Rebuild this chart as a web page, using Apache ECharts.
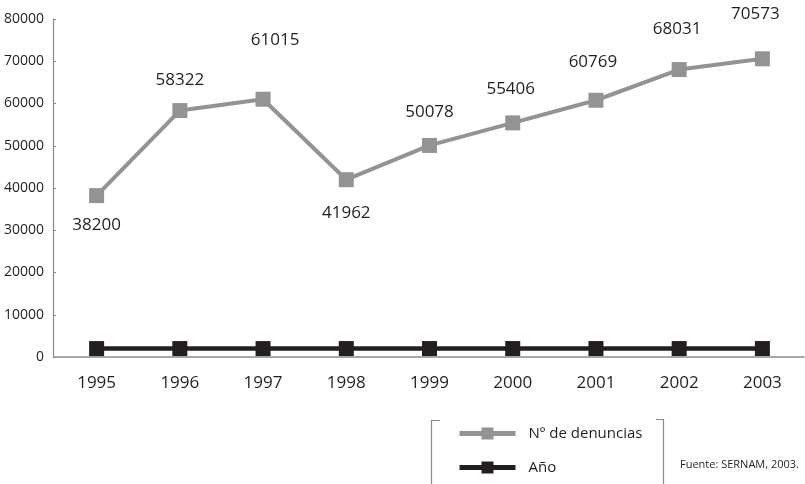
<!DOCTYPE html>
<html>
<head>
<meta charset="utf-8">
<script src="https://cdn.jsdelivr.net/npm/echarts@6/dist/echarts.min.js"></script>
<style>
  html, body { margin: 0; padding: 0; background: #fff; }
  #chart { width: 805px; height: 484px; }
</style>
</head>
<body>
<div id="chart"></div>
<script>
const years = ['1995', '1996', '1997', '1998', '1999', '2000', '2001', '2002', '2003'];
const denuncias = [38200, 58322, 61015, 41962, 50078, 55406, 60769, 68031, 70573];
const anio = [1995, 1996, 1997, 1998, 1999, 2000, 2001, 2002, 2003];
const yTicks = [0, 10000, 20000, 30000, 40000, 50000, 60000, 70000, 80000];
const sourceText = 'Fuente: SERNAM, 2003.';

const FONT = '"Open Sans", "DejaVu Sans", sans-serif';
const TEXT = '#231f20';
const GRAY = '#939396';
const AXIS = '#8c8c8c';

// label placement, as hand-set in the original (dx, dy from the point)
const labelShift = [[0, 30], [0, -30], [12, -59], [0, 33], [0, -33], [-2, -34], [-3, -38], [-2, -40], [-7, -45]];

const chart = echarts.init(document.getElementById('chart'), null, { renderer: 'canvas' });

chart.setOption({
  animation: false,
  textStyle: { fontFamily: FONT },
  grid: { left: 55, right: 1, top: 19, bottom: 127 },
  legend: {
    orient: 'vertical',
    left: 452,
    top: 421,
    itemWidth: 56,
    itemHeight: 15,
    itemGap: 19,
    lineStyle: { width: 5 },
    textStyle: { color: TEXT, fontSize: 15, fontFamily: FONT, padding: [0, 0, 0, 8] },
    data: ['Nº de denuncias', 'Año']
  },
  xAxis: {
    type: 'category',
    data: years,
    boundaryGap: true,
    axisLine: { lineStyle: { color: AXIS, width: 1.5 } },
    axisTick: { show: false },
    axisLabel: { color: TEXT, fontSize: 17, margin: 18 }
  },
  yAxis: {
    type: 'value',
    min: yTicks[0],
    max: yTicks[yTicks.length - 1],
    interval: yTicks[1] - yTicks[0],
    offset: 2,
    axisLine: { show: true, lineStyle: { color: AXIS, width: 1.2 } },
    axisTick: { show: true, inside: true, length: 3, lineStyle: { color: AXIS } },
    splitLine: { show: false },
    axisLabel: { color: TEXT, fontSize: 14, margin: 9, formatter: (v) => String(v) }
  },
  series: [
    {
      name: 'Nº de denuncias',
      type: 'line',
      data: denuncias.map((v, i) => ({
        value: v,
        label: { position: 'inside', offset: labelShift[i] }
      })),
      symbol: 'rect',
      symbolSize: 15,
      lineStyle: { color: GRAY, width: 4 },
      itemStyle: { color: GRAY },
      label: { show: true, color: TEXT, fontSize: 17, fontFamily: FONT },
      z: 3
    },
    {
      name: 'Año',
      type: 'line',
      data: anio,
      symbol: 'rect',
      symbolSize: 15,
      lineStyle: { color: '#231f20', width: 4.5 },
      itemStyle: { color: '#231f20' },
      z: 2
    }
  ],
  graphic: [
    {
      type: 'polyline',
      shape: { points: [[440, 420.5], [431.5, 420.5], [431.5, 484]] },
      style: { stroke: AXIS, lineWidth: 1.2, fill: null }
    },
    {
      type: 'polyline',
      shape: { points: [[656, 419.5], [663.5, 419.5], [663.5, 484]] },
      style: { stroke: AXIS, lineWidth: 1.2, fill: null }
    },
    {
      type: 'text',
      left: 680,
      top: 459,
      style: { text: sourceText, fill: TEXT, fontSize: 11, fontFamily: FONT }
    }
  ]
});
</script>
</body>
</html>
